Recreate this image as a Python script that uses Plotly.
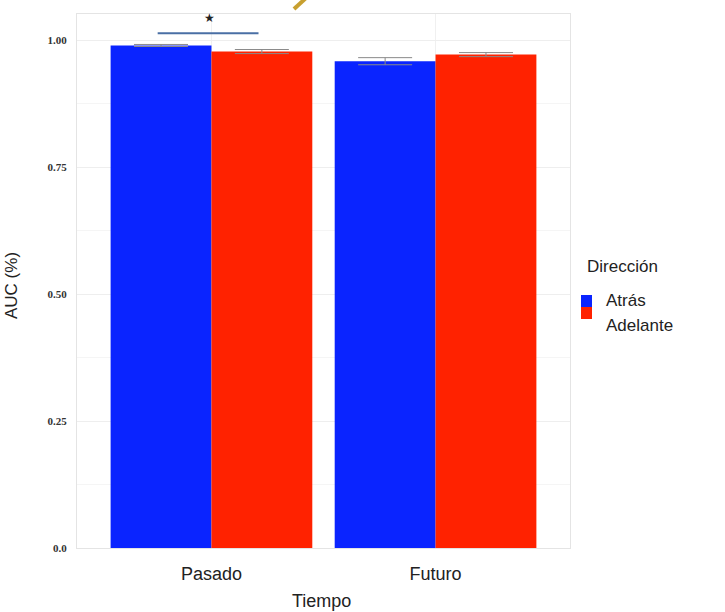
import plotly.graph_objects as go

categories = ["Pasado", "Futuro"]
series_names = ["Atrás", "Adelante"]
atras_values = [0.990, 0.959]
adelante_values = [0.978, 0.972]
atras_err = [0.002, 0.007]
adelante_err = [0.004, 0.004]
colors = ["#0A24FF", "#FF2200"]
y_tickvals = [0.0, 0.25, 0.5, 0.75, 1.0]
y_ticktext = ["<b>0.0</b>", "<b>0.25</b>", "<b>0.50</b>", "<b>0.75</b>", "<b>1.00</b>"]
sig_y = 1.014
star_y = 1.045

fig = go.Figure()
for name, vals, errs, col in zip(series_names, [atras_values, adelante_values],
                                 [atras_err, adelante_err], colors):
    fig.add_trace(go.Bar(
        x=categories, y=vals, name=name, marker=dict(color=col, line=dict(width=0)),
        error_y=dict(type="data", array=errs, color="#8a8a8a", thickness=1, width=27),
        showlegend=False,
    ))

# significance line and star
fig.add_shape(type="line", xref="x", yref="y", x0=-0.24, x1=0.21, y0=sig_y, y1=sig_y,
              line=dict(color="#4a6fa5", width=2))
fig.add_annotation(x=-0.01, y=star_y, xref="x", yref="y", text="★", showarrow=False,
                   font=dict(size=12, color="#222222"))

# pencil artifact at top
fig.add_shape(type="line", xref="paper", yref="paper",
              x0=(294 - 77) / 493, x1=(306 - 77) / 493,
              y0=(548 - 9) / 534, y1=(548 + 2) / 534,
              line=dict(color="#c8a030", width=4))

# manual legend
L = 77; W = 493; T = 14; H = 534
def px(x): return (x - L) / W
def py(y): return (T + H - y) / H
fig.add_annotation(x=px(585), y=py(266), xref="paper", yref="paper", text="Dirección",
                   showarrow=False, xanchor="left", yanchor="middle",
                   font=dict(size=17, color="#222222", family="Liberation Sans"))
for i, (name, col) in enumerate(zip(series_names, colors)):
    y0 = 295 + i * 12
    fig.add_shape(type="rect", xref="paper", yref="paper", x0=px(581), x1=px(592),
                  y0=py(y0), y1=py(y0 + 12), fillcolor=col, line=dict(width=0))
    fig.add_annotation(x=px(604), y=py(300 + i * 25), xref="paper", yref="paper", text=name,
                       showarrow=False, xanchor="left", yanchor="middle",
                       font=dict(size=17, color="#222222", family="Liberation Sans"))

# axis titles
fig.add_annotation(x=px(11), y=py(286), xref="paper", yref="paper", text="AUC (%)",
                   textangle=-90, showarrow=False, xanchor="center", yanchor="middle",
                   font=dict(size=17, color="#222222", family="Liberation Sans"))
fig.add_annotation(x=px(321), y=py(601), xref="paper", yref="paper", text="Tiempo",
                   showarrow=False, xanchor="center", yanchor="middle",
                   font=dict(size=18, color="#222222", family="Liberation Sans"))

fig.update_layout(
    width=725, height=612,
    margin=dict(l=77, r=155, t=14, b=64),
    paper_bgcolor="white", plot_bgcolor="white",
    barmode="group", bargap=0.1, bargroupgap=0,
    xaxis=dict(range=[-0.6, 1.6], showgrid=True, gridcolor="#F0F0F0", gridwidth=1,
               tickfont=dict(size=18, color="#222222", family="Liberation Sans"),
               ticklabelstandoff=9, automargin=False,
               showline=True, linecolor="#E4E4E4", mirror=True, ticks="", zeroline=False),
    yaxis=dict(range=[0, 1.052], tickvals=y_tickvals, ticktext=y_ticktext,
               showgrid=True, gridcolor="#EEEEEE", gridwidth=1, automargin=False,
               minor=dict(tickvals=[0.125, 0.375, 0.625, 0.875], showgrid=True,
                          gridcolor="#F5F5F5", gridwidth=1),
               tickfont=dict(size=11, color="#333333", family="Liberation Serif"),
               showline=True, linecolor="#E4E4E4", mirror=True, ticks="", zeroline=False,
               ticklabelstandoff=7),
)
fig.write_html("out.html")
